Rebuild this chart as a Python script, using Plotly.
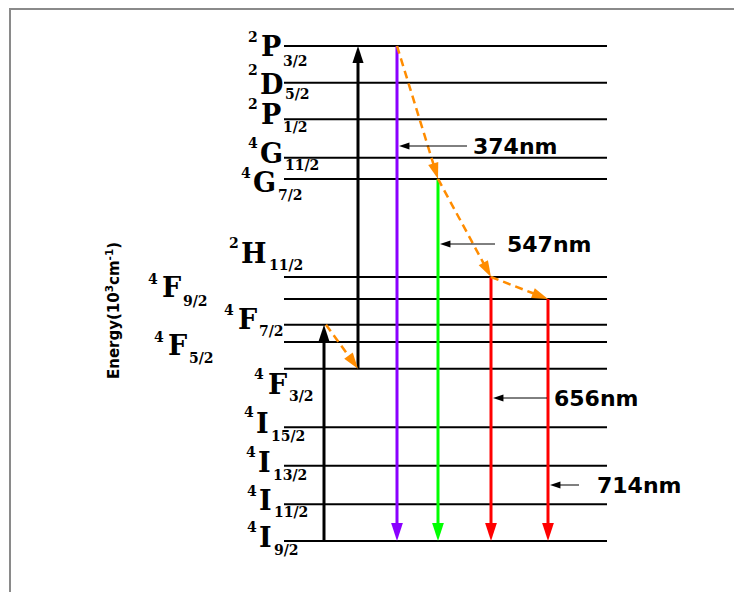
import plotly.graph_objects as go

# ---- Energy levels (schematic diagram scale, 10^3 cm^-1) ----
level_terms = ["4I9/2", "4I11/2", "4I13/2", "4I15/2", "4F3/2", "4F5/2", "4F7/2",
               "4F9/2", "2H11/2", "4G7/2", "4G11/2", "2P1/2", "2D5/2", "2P3/2"]
level_energy = [0.0, 2.0, 4.1, 6.2, 9.4, 10.85, 11.8, 13.2, 14.4, 19.75, 20.9, 23.0, 25.0, 27.0]
E = dict(zip(level_terms, level_energy))

# pumping (absorption) steps
pump_from = ["4I9/2", "4F3/2"]
pump_to = ["4F7/2", "2P3/2"]
# non-radiative relaxation steps
relax_from = ["4F7/2", "2P3/2", "4G7/2", "2H11/2"]
relax_to = ["4F3/2", "4G7/2", "2H11/2", "4F9/2"]
# radiative emissions
emit_from = ["2P3/2", "4G7/2", "2H11/2", "4F9/2"]
emit_to = ["4I9/2", "4I9/2", "4I9/2", "4I9/2"]
emit_nm = [374, 547, 656, 714]

# ---- Layout / style ----
W, H = 734, 592
GROUND_PX = 541
PX_PER_UNIT = 495 / 27


def y_of(py):
    """Vertical page position (px from top) -> energy-axis value."""
    return (GROUND_PX - py) / PX_PER_UNIT


LEVEL_X = (284, 607)
PUMP_X = [324, 358]
EMIT_X = [397, 438, 491, 548]
RELAX_X = [(PUMP_X[0] + 2, PUMP_X[1]), (EMIT_X[0], EMIT_X[1]),
           (EMIT_X[1], EMIT_X[2]), (EMIT_X[2], EMIT_X[3])]
EMIT_COLORS = ["#8a00ff", "#00ff00", "#ff0000", "#ff0000"]
ORANGE = "#ff8c00"
# wavelength tags: pointer tail x, y (px), text left x
NM_POS = [(467, 146, 471), (495, 244, 505), (547, 398, 552), (579, 485, 595)]

# term symbol placement: sup centre y, letter centre y, subscript left x / centre y
TERM_POS = {
    "2P3/2": (37, 46, 281, 61),
    "2D5/2": (69.5, 84, 283, 94),
    "2P1/2": (103.5, 114, 281, 127),
    "4G11/2": (142.5, 153, 283, 165),
    "4G7/2": (172.5, 182, 276, 195),
    "2H11/2": (242.5, 253.5, 267, 265),
    "4F9/2": (279, 287.5, 181, 301),
    "4F7/2": (309.5, 319.5, 257, 331),
    "4F5/2": (337, 345.5, 187, 358),
    "4F3/2": (374, 384.5, 287, 396),
    "4I15/2": (411.5, 423.5, 269, 436),
    "4I13/2": (451.5, 462.5, 271, 475),
    "4I11/2": (490.5, 500, 272, 512),
    "4I9/2": (526.5, 537.5, 272, 550),
}
# approximate advance widths (em) of the bold serif capitals
LETTER_EM = {"P": 0.76, "D": 0.86, "G": 0.86, "H": 0.98, "F": 0.76, "I": 0.48}

SERIF = "DejaVu Serif"
SANS = "DejaVu Sans"
LETTER_SIZE = 27
SMALL_SIZE = 14

fig = go.Figure()

# level lines
lx, ly = [], []
for t in level_terms:
    lx += [LEVEL_X[0], LEVEL_X[1], None]
    ly += [E[t], E[t], None]
fig.add_trace(go.Scatter(x=lx, y=ly, mode="lines",
                         line=dict(color="black", width=2), hoverinfo="skip"))


def arrow(x0, y0, x1, y1, color, width, size, dash="solid"):
    fig.add_trace(go.Scatter(
        x=[x0, x1], y=[y0, y1], mode="lines+markers",
        line=dict(color=color, width=width, dash=dash),
        marker=dict(symbol="arrow", angleref="previous", size=size,
                    opacity=[0, 1], color=color, line=dict(width=0)),
        hoverinfo="skip"))


# pumping arrows
for x, a, b in zip(PUMP_X, pump_from, pump_to):
    arrow(x, E[a], x, E[b], "black", 3, 18)

# emission arrows
for x, a, b, c in zip(EMIT_X, emit_from, emit_to, EMIT_COLORS):
    arrow(x, E[a], x, E[b], c, 3, 19)

# relaxation (dashed)
for (x0, x1), a, b in zip(RELAX_X, relax_from, relax_to):
    arrow(x0, E[a], x1, E[b], ORANGE, 2.5, 17, dash="8px,5px")

# wavelength tags with small pointers
annotations = []
for x, nm, (tx, py, txt_x) in zip(EMIT_X, emit_nm, NM_POS):
    arrow(tx, y_of(py), x + 2, y_of(py), "black", 1, 11)
    annotations.append(dict(x=txt_x, y=y_of(py), text=f"{nm}nm",
                            xanchor="left", yanchor="middle",
                            font=dict(family=SANS, size=22, color="black", weight="bold")))

# term symbols: superscript multiplicity, letter, subscript J
for t in level_terms:
    sy, cy, bx, by = TERM_POS[t]
    sup, letter, sub = t[0], t[1], t[2:]
    right = bx + 2
    left = right - LETTER_EM[letter] * LETTER_SIZE
    annotations.append(dict(x=bx, y=y_of(by), text=sub, xanchor="left", yanchor="middle",
                            font=dict(family=SERIF, size=SMALL_SIZE, weight="bold", color="black")))
    annotations.append(dict(x=right, y=y_of(cy), text=letter, xanchor="right", yanchor="middle",
                            font=dict(family=SERIF, size=LETTER_SIZE, weight="bold", color="black")))
    annotations.append(dict(x=left - 2, y=y_of(sy), text=sup, xanchor="right", yanchor="middle",
                            font=dict(family=SERIF, size=SMALL_SIZE, weight="bold", color="black")))

# vertical axis caption
annotations.append(dict(x=113, y=y_of(311), text="Energy(10<sup>3</sup>cm<sup>-1</sup>)",
                        textangle=-90, xanchor="center", yanchor="middle",
                        font=dict(family=SANS, size=15, weight="bold", color="black")))

for a in annotations:
    a.setdefault("xref", "x")
    a.setdefault("yref", "y")
    a.setdefault("showarrow", False)

fig.update_layout(
    width=W, height=H, autosize=False,
    margin=dict(l=0, r=0, t=0, b=0),
    paper_bgcolor="white", plot_bgcolor="white",
    showlegend=False,
    xaxis=dict(range=[0, W], visible=False, fixedrange=True),
    yaxis=dict(range=[y_of(H), y_of(0)], visible=False, fixedrange=True),
    annotations=annotations,
    shapes=[dict(type="rect", xref="paper", yref="paper",
                 x0=10 / W, x1=1.05, y0=-0.05, y1=1 - 9 / H,
                 line=dict(color="#8a8a8a", width=2), fillcolor="rgba(0,0,0,0)")],
)

fig.write_html("out.html")
